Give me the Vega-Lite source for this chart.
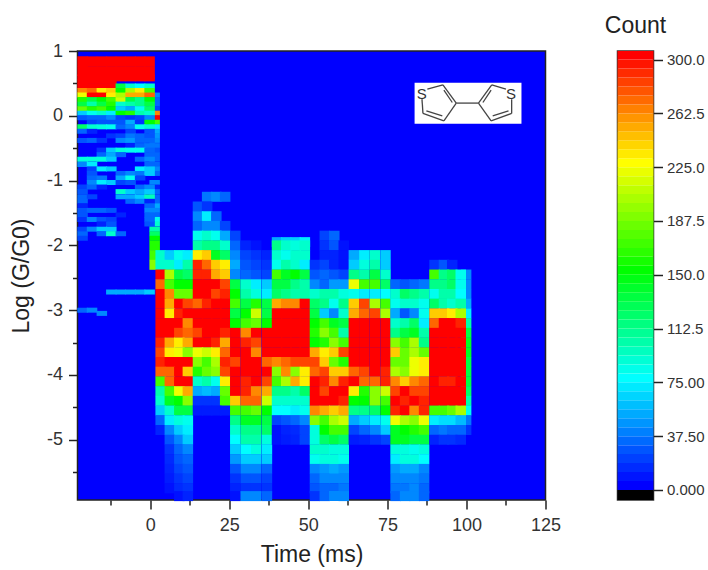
{"$schema":"https://vega.github.io/schema/vega-lite/v6.json","background":"white","padding":{"left":9.5,"top":14,"right":0,"bottom":0},"spacing":42,
"config":{"font":"Liberation Sans","axis":{"grid":false,"domain":false,"labelFont":"Liberation Sans","titleFont":"Liberation Sans","labelColor":"#333333","titleColor":"#222222","tickColor":"#222222","tickWidth":1.5,"titleFontWeight":"normal"},"title":{"font":"Liberation Sans","fontWeight":"normal","color":"#222222"}},
"datasets":{
"a":[
{"x":-21.4,"y":0.84,"c":300},{"x":-18.4,"y":0.84,"c":300},{"x":-15.3,"y":0.84,"c":300},{"x":-12.3,"y":0.84,"c":300},{"x":-9.3,"y":0.84,"c":300},{"x":-6.2,"y":0.84,"c":300},{"x":-3.2,"y":0.84,"c":300},{"x":-0.2,"y":0.84,"c":300},
{"x":-21.4,"y":0.69,"c":300},{"x":-18.4,"y":0.69,"c":300},{"x":-15.3,"y":0.69,"c":300},{"x":-12.3,"y":0.69,"c":300},{"x":-9.3,"y":0.69,"c":300},{"x":-6.2,"y":0.69,"c":300},{"x":-3.2,"y":0.69,"c":300},{"x":-0.2,"y":0.69,"c":300},
{"x":1.4,"y":-2.0,"c":160},{"x":1.4,"y":-2.15,"c":170},{"x":1.4,"y":-2.3,"c":190},
{"x":3.3,"y":-2.15,"c":90},{"x":6.2,"y":-2.15,"c":60},{"x":9.2,"y":-2.15,"c":80},{"x":11.9,"y":-2.15,"c":70},
{"x":3.3,"y":-2.3,"c":90},{"x":6.2,"y":-2.3,"c":90},{"x":9.2,"y":-2.3,"c":70},{"x":11.9,"y":-2.3,"c":100},
{"x":3.3,"y":-2.45,"c":300},{"x":6.2,"y":-2.45,"c":200},{"x":9.2,"y":-2.45,"c":130},{"x":11.9,"y":-2.45,"c":120},
{"x":3.3,"y":-2.6,"c":270},{"x":6.2,"y":-2.6,"c":170},{"x":9.2,"y":-2.6,"c":150},{"x":11.9,"y":-2.6,"c":150},
{"x":3.3,"y":-2.75,"c":300},{"x":6.2,"y":-2.75,"c":260},{"x":9.2,"y":-2.75,"c":180},{"x":11.9,"y":-2.75,"c":180},
{"x":3.3,"y":-2.9,"c":300},{"x":6.2,"y":-2.9,"c":250},{"x":9.2,"y":-2.9,"c":300},{"x":11.9,"y":-2.9,"c":280},
{"x":3.3,"y":-3.05,"c":300},{"x":6.2,"y":-3.05,"c":230},{"x":9.2,"y":-3.05,"c":290},{"x":11.9,"y":-3.05,"c":300},
{"x":3.3,"y":-3.2,"c":300},{"x":6.2,"y":-3.2,"c":300},{"x":9.2,"y":-3.2,"c":300},{"x":11.9,"y":-3.2,"c":260},
{"x":3.3,"y":-3.35,"c":300},{"x":6.2,"y":-3.35,"c":300},{"x":9.2,"y":-3.35,"c":280},{"x":11.9,"y":-3.35,"c":270},
{"x":3.3,"y":-3.5,"c":290},{"x":6.2,"y":-3.5,"c":250},{"x":9.2,"y":-3.5,"c":230},{"x":11.9,"y":-3.5,"c":250},
{"x":3.3,"y":-3.65,"c":280},{"x":6.2,"y":-3.65,"c":230},{"x":9.2,"y":-3.65,"c":220},{"x":11.9,"y":-3.65,"c":190},
{"x":3.3,"y":-3.8,"c":290},{"x":6.2,"y":-3.8,"c":300},{"x":9.2,"y":-3.8,"c":300},{"x":11.9,"y":-3.8,"c":300},
{"x":3.3,"y":-3.95,"c":270},{"x":6.2,"y":-3.95,"c":270},{"x":9.2,"y":-3.95,"c":300},{"x":11.9,"y":-3.95,"c":240},
{"x":3.3,"y":-4.1,"c":170},{"x":6.2,"y":-4.1,"c":270},{"x":9.2,"y":-4.1,"c":300},{"x":11.9,"y":-4.1,"c":300},
{"x":3.3,"y":-4.25,"c":100},{"x":6.2,"y":-4.25,"c":170},{"x":9.2,"y":-4.25,"c":220},{"x":11.9,"y":-4.25,"c":250},
{"x":3.3,"y":-4.4,"c":90},{"x":6.2,"y":-4.4,"c":140},{"x":9.2,"y":-4.4,"c":150},{"x":11.9,"y":-4.4,"c":190},
{"x":3.3,"y":-4.55,"c":60},{"x":6.2,"y":-4.55,"c":90},{"x":9.2,"y":-4.55,"c":130},{"x":11.9,"y":-4.55,"c":130},
{"x":3.3,"y":-4.7,"c":30},{"x":6.2,"y":-4.7,"c":70},{"x":9.2,"y":-4.7,"c":85},{"x":11.9,"y":-4.7,"c":80},
{"x":3.3,"y":-4.85,"c":10},{"x":6.2,"y":-4.85,"c":40},{"x":9.2,"y":-4.85,"c":60},{"x":11.9,"y":-4.85,"c":70},
{"x":6.2,"y":-5.0,"c":25},{"x":9.2,"y":-5.0,"c":40},{"x":11.9,"y":-5.0,"c":60},
{"x":6.2,"y":-5.15,"c":15},{"x":9.2,"y":-5.15,"c":30},{"x":11.9,"y":-5.15,"c":40},
{"x":6.2,"y":-5.3,"c":12},{"x":9.2,"y":-5.3,"c":25},{"x":11.9,"y":-5.3,"c":30},
{"x":6.2,"y":-5.45,"c":10},{"x":9.2,"y":-5.45,"c":20},{"x":11.9,"y":-5.45,"c":25},
{"x":6.2,"y":-5.6,"c":8},{"x":9.2,"y":-5.6,"c":15},{"x":11.9,"y":-5.6,"c":20},
{"x":6.2,"y":-5.75,"c":5},{"x":9.2,"y":-5.75,"c":12},{"x":11.9,"y":-5.75,"c":15},
{"x":9.2,"y":-5.87,"c":5},{"x":11.9,"y":-5.87,"c":10},
{"x":18,"y":-1.25,"c":35},{"x":20.9,"y":-1.25,"c":40},{"x":23.7,"y":-1.25,"c":30},
{"x":15.1,"y":-1.4,"c":25},{"x":18,"y":-1.4,"c":15},
{"x":15.1,"y":-1.55,"c":40},{"x":18,"y":-1.55,"c":70},{"x":20.9,"y":-1.55,"c":30},
{"x":15.1,"y":-1.7,"c":30},{"x":18,"y":-1.7,"c":40},{"x":20.9,"y":-1.7,"c":40},{"x":23.7,"y":-1.7,"c":20},
{"x":15.1,"y":-1.85,"c":80},{"x":18,"y":-1.85,"c":90},{"x":20.9,"y":-1.85,"c":80},{"x":23.7,"y":-1.85,"c":50},
{"x":15.1,"y":-2.0,"c":100},{"x":18,"y":-2.0,"c":110},{"x":20.9,"y":-2.0,"c":110},{"x":23.7,"y":-2.0,"c":90},
{"x":15.1,"y":-2.15,"c":230},{"x":18,"y":-2.15,"c":240},{"x":20.9,"y":-2.15,"c":140},{"x":23.7,"y":-2.15,"c":120},
{"x":15.1,"y":-2.3,"c":290},{"x":18,"y":-2.3,"c":270},{"x":20.9,"y":-2.3,"c":240},{"x":23.7,"y":-2.3,"c":230},
{"x":15.1,"y":-2.45,"c":290},{"x":18,"y":-2.45,"c":290},{"x":20.9,"y":-2.45,"c":250},{"x":23.7,"y":-2.45,"c":240},
{"x":15.1,"y":-2.6,"c":300},{"x":18,"y":-2.6,"c":300},{"x":20.9,"y":-2.6,"c":300},{"x":23.7,"y":-2.6,"c":280},
{"x":15.1,"y":-2.75,"c":300},{"x":18,"y":-2.75,"c":300},{"x":20.9,"y":-2.75,"c":280},{"x":23.7,"y":-2.75,"c":290},
{"x":15.1,"y":-2.9,"c":270},{"x":18,"y":-2.9,"c":290},{"x":20.9,"y":-2.9,"c":300},{"x":23.7,"y":-2.9,"c":300},
{"x":15.1,"y":-3.05,"c":300},{"x":18,"y":-3.05,"c":300},{"x":20.9,"y":-3.05,"c":300},{"x":23.7,"y":-3.05,"c":300},
{"x":15.1,"y":-3.2,"c":300},{"x":18,"y":-3.2,"c":300},{"x":20.9,"y":-3.2,"c":300},{"x":23.7,"y":-3.2,"c":300},
{"x":15.1,"y":-3.35,"c":280},{"x":18,"y":-3.35,"c":300},{"x":20.9,"y":-3.35,"c":300},{"x":23.7,"y":-3.35,"c":290},
{"x":15.1,"y":-3.5,"c":300},{"x":18,"y":-3.5,"c":300},{"x":20.9,"y":-3.5,"c":290},{"x":23.7,"y":-3.5,"c":250},
{"x":15.1,"y":-3.65,"c":220},{"x":18,"y":-3.65,"c":210},{"x":20.9,"y":-3.65,"c":230},{"x":23.7,"y":-3.65,"c":270},
{"x":15.1,"y":-3.8,"c":190},{"x":18,"y":-3.8,"c":170},{"x":20.9,"y":-3.8,"c":200},{"x":23.7,"y":-3.8,"c":290},
{"x":15.1,"y":-3.95,"c":160},{"x":18,"y":-3.95,"c":180},{"x":20.9,"y":-3.95,"c":190},{"x":23.7,"y":-3.95,"c":280},
{"x":15.1,"y":-4.1,"c":90},{"x":18,"y":-4.1,"c":100},{"x":20.9,"y":-4.1,"c":80},{"x":23.7,"y":-4.1,"c":230},
{"x":15.1,"y":-4.25,"c":50},{"x":18,"y":-4.25,"c":55},{"x":20.9,"y":-4.25,"c":50},{"x":23.7,"y":-4.25,"c":180},
{"x":15.1,"y":-4.4,"c":15},{"x":18,"y":-4.4,"c":15},{"x":20.9,"y":-4.4,"c":15},{"x":23.7,"y":-4.4,"c":170},
{"x":15.1,"y":-4.55,"c":8},{"x":18,"y":-4.55,"c":8},{"x":20.9,"y":-4.55,"c":8},{"x":23.7,"y":-4.55,"c":8},
{"x":26.9,"y":-1.85,"c":20},
{"x":26.9,"y":-2.0,"c":30},{"x":30.2,"y":-2.0,"c":10},{"x":33.5,"y":-2.0,"c":5},
{"x":26.9,"y":-2.15,"c":40},{"x":30.2,"y":-2.15,"c":20},{"x":33.5,"y":-2.15,"c":15},{"x":36.9,"y":-2.15,"c":10},
{"x":26.9,"y":-2.3,"c":50},{"x":30.2,"y":-2.3,"c":25},{"x":33.5,"y":-2.3,"c":20},{"x":36.9,"y":-2.3,"c":15},
{"x":26.9,"y":-2.45,"c":40},{"x":30.2,"y":-2.45,"c":30},{"x":33.5,"y":-2.45,"c":25},{"x":36.9,"y":-2.45,"c":20},
{"x":26.9,"y":-2.6,"c":130},{"x":30.2,"y":-2.6,"c":90},{"x":33.5,"y":-2.6,"c":70},{"x":36.9,"y":-2.6,"c":60},
{"x":26.9,"y":-2.75,"c":150},{"x":30.2,"y":-2.75,"c":100},{"x":33.5,"y":-2.75,"c":85},{"x":36.9,"y":-2.75,"c":70},
{"x":26.9,"y":-2.9,"c":170},{"x":30.2,"y":-2.9,"c":130},{"x":33.5,"y":-2.9,"c":160},{"x":36.9,"y":-2.9,"c":130},
{"x":26.9,"y":-3.05,"c":130},{"x":30.2,"y":-3.05,"c":150},{"x":33.5,"y":-3.05,"c":210},{"x":36.9,"y":-3.05,"c":130},
{"x":26.9,"y":-3.2,"c":150},{"x":30.2,"y":-3.2,"c":170},{"x":33.5,"y":-3.2,"c":180},{"x":36.9,"y":-3.2,"c":150},
{"x":26.9,"y":-3.35,"c":300},{"x":30.2,"y":-3.35,"c":260},{"x":33.5,"y":-3.35,"c":300},{"x":36.9,"y":-3.35,"c":300},
{"x":26.9,"y":-3.5,"c":300},{"x":30.2,"y":-3.5,"c":290},{"x":33.5,"y":-3.5,"c":280},{"x":36.9,"y":-3.5,"c":300},
{"x":26.9,"y":-3.65,"c":300},{"x":30.2,"y":-3.65,"c":300},{"x":33.5,"y":-3.65,"c":260},{"x":36.9,"y":-3.65,"c":300},
{"x":26.9,"y":-3.8,"c":280},{"x":30.2,"y":-3.8,"c":300},{"x":33.5,"y":-3.8,"c":300},{"x":36.9,"y":-3.8,"c":270},
{"x":26.9,"y":-3.95,"c":300},{"x":30.2,"y":-3.95,"c":300},{"x":33.5,"y":-3.95,"c":300},{"x":36.9,"y":-3.95,"c":300},
{"x":26.9,"y":-4.1,"c":300},{"x":30.2,"y":-4.1,"c":290},{"x":33.5,"y":-4.1,"c":300},{"x":36.9,"y":-4.1,"c":280},
{"x":26.9,"y":-4.25,"c":300},{"x":30.2,"y":-4.25,"c":290},{"x":33.5,"y":-4.25,"c":260},{"x":36.9,"y":-4.25,"c":250},
{"x":26.9,"y":-4.4,"c":240},{"x":30.2,"y":-4.4,"c":270},{"x":33.5,"y":-4.4,"c":270},{"x":36.9,"y":-4.4,"c":210},
{"x":26.9,"y":-4.55,"c":170},{"x":30.2,"y":-4.55,"c":170},{"x":33.5,"y":-4.55,"c":180},{"x":36.9,"y":-4.55,"c":150},
{"x":26.9,"y":-4.7,"c":110},{"x":30.2,"y":-4.7,"c":140},{"x":33.5,"y":-4.7,"c":140},{"x":36.9,"y":-4.7,"c":130},
{"x":26.9,"y":-4.85,"c":90},{"x":30.2,"y":-4.85,"c":110},{"x":33.5,"y":-4.85,"c":110},{"x":36.9,"y":-4.85,"c":120},
{"x":26.9,"y":-5.0,"c":75},{"x":30.2,"y":-5.0,"c":100},{"x":33.5,"y":-5.0,"c":100},{"x":36.9,"y":-5.0,"c":85},
{"x":26.9,"y":-5.15,"c":60},{"x":30.2,"y":-5.15,"c":75},{"x":33.5,"y":-5.15,"c":85},{"x":36.9,"y":-5.15,"c":70},
{"x":26.9,"y":-5.3,"c":45},{"x":30.2,"y":-5.3,"c":60},{"x":33.5,"y":-5.3,"c":60},{"x":36.9,"y":-5.3,"c":60},
{"x":26.9,"y":-5.45,"c":25},{"x":30.2,"y":-5.45,"c":40},{"x":33.5,"y":-5.45,"c":40},{"x":36.9,"y":-5.45,"c":30},
{"x":26.9,"y":-5.6,"c":15},{"x":30.2,"y":-5.6,"c":25},{"x":33.5,"y":-5.6,"c":25},{"x":36.9,"y":-5.6,"c":20},
{"x":26.9,"y":-5.75,"c":10},{"x":30.2,"y":-5.75,"c":15},{"x":33.5,"y":-5.75,"c":15},{"x":36.9,"y":-5.75,"c":15},
{"x":26.9,"y":-5.87,"c":5},{"x":30.2,"y":-5.87,"c":40},{"x":33.5,"y":-5.87,"c":40},{"x":36.9,"y":-5.87,"c":30},
{"x":40.1,"y":-1.95,"c":50},{"x":43,"y":-1.95,"c":60},{"x":46,"y":-1.95,"c":60},{"x":48.9,"y":-1.95,"c":70},
{"x":40.1,"y":-2.0,"c":110},{"x":43,"y":-2.0,"c":90},{"x":46,"y":-2.0,"c":85},{"x":48.9,"y":-2.0,"c":90},
{"x":40.1,"y":-2.15,"c":90},{"x":43,"y":-2.15,"c":80},{"x":46,"y":-2.15,"c":90},{"x":48.9,"y":-2.15,"c":90},
{"x":40.1,"y":-2.3,"c":80},{"x":43,"y":-2.3,"c":100},{"x":46,"y":-2.3,"c":90},{"x":48.9,"y":-2.3,"c":70},
{"x":40.1,"y":-2.45,"c":170},{"x":43,"y":-2.45,"c":140},{"x":46,"y":-2.45,"c":150},{"x":48.9,"y":-2.45,"c":130},
{"x":40.1,"y":-2.6,"c":130},{"x":43,"y":-2.6,"c":130},{"x":46,"y":-2.6,"c":110},{"x":48.9,"y":-2.6,"c":100},
{"x":40.1,"y":-2.75,"c":120},{"x":43,"y":-2.75,"c":110},{"x":46,"y":-2.75,"c":100},{"x":48.9,"y":-2.75,"c":100},
{"x":40.1,"y":-2.9,"c":250},{"x":43,"y":-2.9,"c":260},{"x":46,"y":-2.9,"c":260},{"x":48.9,"y":-2.9,"c":300},
{"x":40.1,"y":-3.05,"c":300},{"x":43,"y":-3.05,"c":300},{"x":46,"y":-3.05,"c":300},{"x":48.9,"y":-3.05,"c":300},
{"x":40.1,"y":-3.2,"c":300},{"x":43,"y":-3.2,"c":300},{"x":46,"y":-3.2,"c":300},{"x":48.9,"y":-3.2,"c":300},
{"x":40.1,"y":-3.35,"c":300},{"x":43,"y":-3.35,"c":300},{"x":46,"y":-3.35,"c":300},{"x":48.9,"y":-3.35,"c":300},
{"x":40.1,"y":-3.5,"c":300},{"x":43,"y":-3.5,"c":300},{"x":46,"y":-3.5,"c":300},{"x":48.9,"y":-3.5,"c":300},
{"x":40.1,"y":-3.65,"c":300},{"x":43,"y":-3.65,"c":300},{"x":46,"y":-3.65,"c":300},{"x":48.9,"y":-3.65,"c":300},
{"x":40.1,"y":-3.8,"c":260},{"x":43,"y":-3.8,"c":270},{"x":46,"y":-3.8,"c":280},{"x":48.9,"y":-3.8,"c":280},
{"x":40.1,"y":-3.95,"c":190},{"x":43,"y":-3.95,"c":260},{"x":46,"y":-3.95,"c":190},{"x":48.9,"y":-3.95,"c":230},
{"x":40.1,"y":-4.1,"c":170},{"x":43,"y":-4.1,"c":200},{"x":46,"y":-4.1,"c":250},{"x":48.9,"y":-4.1,"c":230},
{"x":40.1,"y":-4.25,"c":110},{"x":43,"y":-4.25,"c":110},{"x":46,"y":-4.25,"c":100},{"x":48.9,"y":-4.25,"c":120},
{"x":40.1,"y":-4.4,"c":90},{"x":43,"y":-4.4,"c":90},{"x":46,"y":-4.4,"c":90},{"x":48.9,"y":-4.4,"c":90},
{"x":40.1,"y":-4.55,"c":75},{"x":43,"y":-4.55,"c":75},{"x":46,"y":-4.55,"c":70},{"x":48.9,"y":-4.55,"c":80},
{"x":40.1,"y":-4.7,"c":20},{"x":43,"y":-4.7,"c":25},{"x":46,"y":-4.7,"c":30},{"x":48.9,"y":-4.7,"c":40},
{"x":40.1,"y":-4.85,"c":5},{"x":43,"y":-4.85,"c":10},{"x":46,"y":-4.85,"c":12},{"x":48.9,"y":-4.85,"c":20},
{"x":40.1,"y":-5.0,"c":5},{"x":43,"y":-5.0,"c":8},{"x":46,"y":-5.0,"c":10},{"x":48.9,"y":-5.0,"c":20},
{"x":55.2,"y":-1.85,"c":20},{"x":58.2,"y":-1.85,"c":30},
{"x":55.2,"y":-2.0,"c":15},{"x":58.2,"y":-2.0,"c":25},{"x":61.2,"y":-2.0,"c":5},
{"x":55.2,"y":-2.15,"c":10},{"x":58.2,"y":-2.15,"c":10},{"x":61.2,"y":-2.15,"c":5},
{"x":52.1,"y":-2.3,"c":15},{"x":55.2,"y":-2.3,"c":20},{"x":58.2,"y":-2.3,"c":10},{"x":61.2,"y":-2.3,"c":5},
{"x":52.1,"y":-2.45,"c":25},{"x":55.2,"y":-2.45,"c":30},{"x":58.2,"y":-2.45,"c":25},{"x":61.2,"y":-2.45,"c":20},
{"x":52.1,"y":-2.6,"c":40},{"x":55.2,"y":-2.6,"c":30},{"x":58.2,"y":-2.6,"c":45},{"x":61.2,"y":-2.6,"c":45},
{"x":52.1,"y":-2.75,"c":90},{"x":55.2,"y":-2.75,"c":100},{"x":58.2,"y":-2.75,"c":100},{"x":61.2,"y":-2.75,"c":85},
{"x":52.1,"y":-2.9,"c":120},{"x":55.2,"y":-2.9,"c":110},{"x":58.2,"y":-2.9,"c":80},{"x":61.2,"y":-2.9,"c":110},
{"x":52.1,"y":-3.05,"c":130},{"x":55.2,"y":-3.05,"c":60},{"x":58.2,"y":-3.05,"c":40},{"x":61.2,"y":-3.05,"c":90},
{"x":52.1,"y":-3.2,"c":150},{"x":55.2,"y":-3.2,"c":170},{"x":58.2,"y":-3.2,"c":140},{"x":61.2,"y":-3.2,"c":130},
{"x":52.1,"y":-3.35,"c":160},{"x":55.2,"y":-3.35,"c":190},{"x":58.2,"y":-3.35,"c":170},{"x":61.2,"y":-3.35,"c":100},
{"x":52.1,"y":-3.5,"c":150},{"x":55.2,"y":-3.5,"c":160},{"x":58.2,"y":-3.5,"c":190},{"x":61.2,"y":-3.5,"c":170},
{"x":52.1,"y":-3.65,"c":250},{"x":55.2,"y":-3.65,"c":230},{"x":58.2,"y":-3.65,"c":240},{"x":61.2,"y":-3.65,"c":280},
{"x":52.1,"y":-3.8,"c":280},{"x":55.2,"y":-3.8,"c":240},{"x":58.2,"y":-3.8,"c":180},{"x":61.2,"y":-3.8,"c":160},
{"x":52.1,"y":-3.95,"c":270},{"x":55.2,"y":-3.95,"c":280},{"x":58.2,"y":-3.95,"c":240},{"x":61.2,"y":-3.95,"c":240},
{"x":52.1,"y":-4.1,"c":300},{"x":55.2,"y":-4.1,"c":290},{"x":58.2,"y":-4.1,"c":260},{"x":61.2,"y":-4.1,"c":290},
{"x":52.1,"y":-4.25,"c":300},{"x":55.2,"y":-4.25,"c":280},{"x":58.2,"y":-4.25,"c":300},{"x":61.2,"y":-4.25,"c":300},
{"x":52.1,"y":-4.4,"c":300},{"x":55.2,"y":-4.4,"c":300},{"x":58.2,"y":-4.4,"c":300},{"x":61.2,"y":-4.4,"c":290},
{"x":52.1,"y":-4.55,"c":260},{"x":55.2,"y":-4.55,"c":250},{"x":58.2,"y":-4.55,"c":240},{"x":61.2,"y":-4.55,"c":250},
{"x":52.1,"y":-4.7,"c":190},{"x":55.2,"y":-4.7,"c":170},{"x":58.2,"y":-4.7,"c":200},{"x":61.2,"y":-4.7,"c":210},
{"x":52.1,"y":-4.85,"c":85},{"x":55.2,"y":-4.85,"c":150},{"x":58.2,"y":-4.85,"c":170},{"x":61.2,"y":-4.85,"c":170},
{"x":52.1,"y":-5.0,"c":85},{"x":55.2,"y":-5.0,"c":120},{"x":58.2,"y":-5.0,"c":130},{"x":61.2,"y":-5.0,"c":120},
{"x":52.1,"y":-5.15,"c":90},{"x":55.2,"y":-5.15,"c":90},{"x":58.2,"y":-5.15,"c":85},{"x":61.2,"y":-5.15,"c":85},
{"x":52.1,"y":-5.3,"c":80},{"x":55.2,"y":-5.3,"c":85},{"x":58.2,"y":-5.3,"c":85},{"x":61.2,"y":-5.3,"c":80},
{"x":52.1,"y":-5.45,"c":40},{"x":55.2,"y":-5.45,"c":45},{"x":58.2,"y":-5.45,"c":50},{"x":61.2,"y":-5.45,"c":45},
{"x":52.1,"y":-5.6,"c":30},{"x":55.2,"y":-5.6,"c":40},{"x":58.2,"y":-5.6,"c":40},{"x":61.2,"y":-5.6,"c":40},
{"x":52.1,"y":-5.75,"c":25},{"x":55.2,"y":-5.75,"c":30},{"x":58.2,"y":-5.75,"c":30},{"x":61.2,"y":-5.75,"c":35},
{"x":52.1,"y":-5.87,"c":15},{"x":55.2,"y":-5.87,"c":30},{"x":58.2,"y":-5.87,"c":40},{"x":61.2,"y":-5.87,"c":40},
{"x":64.4,"y":-2.15,"c":50},{"x":67.7,"y":-2.15,"c":70},{"x":71,"y":-2.15,"c":90},{"x":74.4,"y":-2.15,"c":60},
{"x":64.4,"y":-2.3,"c":60},{"x":67.7,"y":-2.3,"c":85},{"x":71,"y":-2.3,"c":100},{"x":74.4,"y":-2.3,"c":60},
{"x":64.4,"y":-2.45,"c":110},{"x":67.7,"y":-2.45,"c":100},{"x":71,"y":-2.45,"c":130},{"x":74.4,"y":-2.45,"c":90},
{"x":64.4,"y":-2.6,"c":220},{"x":67.7,"y":-2.6,"c":170},{"x":71,"y":-2.6,"c":170},{"x":74.4,"y":-2.6,"c":120},
{"x":64.4,"y":-2.75,"c":80},{"x":67.7,"y":-2.75,"c":70},{"x":71,"y":-2.75,"c":70},{"x":74.4,"y":-2.75,"c":75},
{"x":64.4,"y":-2.9,"c":240},{"x":67.7,"y":-2.9,"c":280},{"x":71,"y":-2.9,"c":200},{"x":74.4,"y":-2.9,"c":170},
{"x":64.4,"y":-3.05,"c":250},{"x":67.7,"y":-3.05,"c":270},{"x":71,"y":-3.05,"c":280},{"x":74.4,"y":-3.05,"c":200},
{"x":64.4,"y":-3.2,"c":300},{"x":67.7,"y":-3.2,"c":300},{"x":71,"y":-3.2,"c":300},{"x":74.4,"y":-3.2,"c":300},
{"x":64.4,"y":-3.35,"c":300},{"x":67.7,"y":-3.35,"c":300},{"x":71,"y":-3.35,"c":300},{"x":74.4,"y":-3.35,"c":300},
{"x":64.4,"y":-3.5,"c":300},{"x":67.7,"y":-3.5,"c":300},{"x":71,"y":-3.5,"c":300},{"x":74.4,"y":-3.5,"c":300},
{"x":64.4,"y":-3.65,"c":300},{"x":67.7,"y":-3.65,"c":300},{"x":71,"y":-3.65,"c":300},{"x":74.4,"y":-3.65,"c":300},
{"x":64.4,"y":-3.8,"c":300},{"x":67.7,"y":-3.8,"c":300},{"x":71,"y":-3.8,"c":300},{"x":74.4,"y":-3.8,"c":300},
{"x":64.4,"y":-3.95,"c":270},{"x":67.7,"y":-3.95,"c":280},{"x":71,"y":-3.95,"c":300},{"x":74.4,"y":-3.95,"c":290},
{"x":64.4,"y":-4.1,"c":300},{"x":67.7,"y":-4.1,"c":270},{"x":71,"y":-4.1,"c":270},{"x":74.4,"y":-4.1,"c":290},
{"x":64.4,"y":-4.25,"c":230},{"x":67.7,"y":-4.25,"c":160},{"x":71,"y":-4.25,"c":190},{"x":74.4,"y":-4.25,"c":210},
{"x":64.4,"y":-4.4,"c":150},{"x":67.7,"y":-4.4,"c":150},{"x":71,"y":-4.4,"c":190},{"x":74.4,"y":-4.4,"c":170},
{"x":64.4,"y":-4.55,"c":110},{"x":67.7,"y":-4.55,"c":110},{"x":71,"y":-4.55,"c":120},{"x":74.4,"y":-4.55,"c":150},
{"x":64.4,"y":-4.7,"c":50},{"x":67.7,"y":-4.7,"c":60},{"x":71,"y":-4.7,"c":70},{"x":74.4,"y":-4.7,"c":80},
{"x":64.4,"y":-4.85,"c":20},{"x":67.7,"y":-4.85,"c":30},{"x":71,"y":-4.85,"c":40},{"x":74.4,"y":-4.85,"c":60},
{"x":64.4,"y":-5.0,"c":8},{"x":67.7,"y":-5.0,"c":10},{"x":71,"y":-5.0,"c":15},{"x":74.4,"y":-5.0,"c":20},
{"x":77.6,"y":-2.6,"c":30},{"x":80.6,"y":-2.6,"c":25},{"x":83.6,"y":-2.6,"c":30},{"x":86.6,"y":-2.6,"c":35},
{"x":77.6,"y":-2.75,"c":90},{"x":80.6,"y":-2.75,"c":120},{"x":83.6,"y":-2.75,"c":110},{"x":86.6,"y":-2.75,"c":100},
{"x":77.6,"y":-2.9,"c":80},{"x":80.6,"y":-2.9,"c":90},{"x":83.6,"y":-2.9,"c":90},{"x":86.6,"y":-2.9,"c":80},
{"x":77.6,"y":-3.05,"c":50},{"x":80.6,"y":-3.05,"c":25},{"x":83.6,"y":-3.05,"c":40},{"x":86.6,"y":-3.05,"c":80},
{"x":77.6,"y":-3.2,"c":90},{"x":80.6,"y":-3.2,"c":100},{"x":83.6,"y":-3.2,"c":120},{"x":86.6,"y":-3.2,"c":70},
{"x":77.6,"y":-3.35,"c":110},{"x":80.6,"y":-3.35,"c":130},{"x":83.6,"y":-3.35,"c":140},{"x":86.6,"y":-3.35,"c":100},
{"x":77.6,"y":-3.5,"c":190},{"x":80.6,"y":-3.5,"c":170},{"x":83.6,"y":-3.5,"c":200},{"x":86.6,"y":-3.5,"c":110},
{"x":77.6,"y":-3.65,"c":240},{"x":80.6,"y":-3.65,"c":180},{"x":83.6,"y":-3.65,"c":200},{"x":86.6,"y":-3.65,"c":180},
{"x":77.6,"y":-3.8,"c":180},{"x":80.6,"y":-3.8,"c":180},{"x":83.6,"y":-3.8,"c":220},{"x":86.6,"y":-3.8,"c":230},
{"x":77.6,"y":-3.95,"c":200},{"x":80.6,"y":-3.95,"c":190},{"x":83.6,"y":-3.95,"c":220},{"x":86.6,"y":-3.95,"c":230},
{"x":77.6,"y":-4.1,"c":260},{"x":80.6,"y":-4.1,"c":240},{"x":83.6,"y":-4.1,"c":260},{"x":86.6,"y":-4.1,"c":270},
{"x":77.6,"y":-4.25,"c":280},{"x":80.6,"y":-4.25,"c":300},{"x":83.6,"y":-4.25,"c":280},{"x":86.6,"y":-4.25,"c":280},
{"x":77.6,"y":-4.4,"c":300},{"x":80.6,"y":-4.4,"c":290},{"x":83.6,"y":-4.4,"c":300},{"x":86.6,"y":-4.4,"c":290},
{"x":77.6,"y":-4.55,"c":290},{"x":80.6,"y":-4.55,"c":300},{"x":83.6,"y":-4.55,"c":260},{"x":86.6,"y":-4.55,"c":290},
{"x":77.6,"y":-4.7,"c":220},{"x":80.6,"y":-4.7,"c":200},{"x":83.6,"y":-4.7,"c":190},{"x":86.6,"y":-4.7,"c":220},
{"x":77.6,"y":-4.85,"c":140},{"x":80.6,"y":-4.85,"c":150},{"x":83.6,"y":-4.85,"c":160},{"x":86.6,"y":-4.85,"c":170},
{"x":77.6,"y":-5.0,"c":140},{"x":80.6,"y":-5.0,"c":140},{"x":83.6,"y":-5.0,"c":130},{"x":86.6,"y":-5.0,"c":130},
{"x":77.6,"y":-5.15,"c":85},{"x":80.6,"y":-5.15,"c":85},{"x":83.6,"y":-5.15,"c":80},{"x":86.6,"y":-5.15,"c":85},
{"x":77.6,"y":-5.3,"c":70},{"x":80.6,"y":-5.3,"c":85},{"x":83.6,"y":-5.3,"c":85},{"x":86.6,"y":-5.3,"c":75},
{"x":77.6,"y":-5.45,"c":45},{"x":80.6,"y":-5.45,"c":50},{"x":83.6,"y":-5.45,"c":50},{"x":86.6,"y":-5.45,"c":40},
{"x":77.6,"y":-5.6,"c":40},{"x":80.6,"y":-5.6,"c":40},{"x":83.6,"y":-5.6,"c":40},{"x":86.6,"y":-5.6,"c":35},
{"x":77.6,"y":-5.75,"c":35},{"x":80.6,"y":-5.75,"c":35},{"x":83.6,"y":-5.75,"c":40},{"x":86.6,"y":-5.75,"c":30},
{"x":77.6,"y":-5.87,"c":30},{"x":80.6,"y":-5.87,"c":40},{"x":83.6,"y":-5.87,"c":40},{"x":86.6,"y":-5.87,"c":30},
{"x":99.9,"y":-2.45,"c":40},{"x":99.9,"y":-2.6,"c":40},{"x":99.9,"y":-2.75,"c":40},{"x":99.9,"y":-2.9,"c":50},{"x":99.9,"y":-3.05,"c":70},{"x":99.9,"y":-3.2,"c":100},{"x":99.9,"y":-3.35,"c":130},{"x":99.9,"y":-3.5,"c":140},{"x":99.9,"y":-3.65,"c":140},{"x":99.9,"y":-3.8,"c":130},{"x":99.9,"y":-3.95,"c":130},{"x":99.9,"y":-4.1,"c":130},{"x":99.9,"y":-4.25,"c":120},{"x":99.9,"y":-4.4,"c":100},{"x":99.9,"y":-4.55,"c":80},{"x":99.9,"y":-4.7,"c":35},{"x":99.9,"y":-4.85,"c":15},
{"x":89.9,"y":-2.3,"c":15},{"x":92.9,"y":-2.3,"c":25},{"x":95.5,"y":-2.3,"c":10},
{"x":89.9,"y":-2.45,"c":170},{"x":92.9,"y":-2.45,"c":110},{"x":95.5,"y":-2.45,"c":120},{"x":98.2,"y":-2.45,"c":80},
{"x":89.9,"y":-2.6,"c":110},{"x":92.9,"y":-2.6,"c":110},{"x":95.5,"y":-2.6,"c":120},{"x":98.2,"y":-2.6,"c":80},
{"x":89.9,"y":-2.75,"c":80},{"x":92.9,"y":-2.75,"c":100},{"x":95.5,"y":-2.75,"c":100},{"x":98.2,"y":-2.75,"c":75},
{"x":89.9,"y":-2.9,"c":120},{"x":92.9,"y":-2.9,"c":100},{"x":95.5,"y":-2.9,"c":90},{"x":98.2,"y":-2.9,"c":100},
{"x":89.9,"y":-3.05,"c":240},{"x":92.9,"y":-3.05,"c":240},{"x":95.5,"y":-3.05,"c":230},{"x":98.2,"y":-3.05,"c":200},
{"x":89.9,"y":-3.2,"c":270},{"x":92.9,"y":-3.2,"c":300},{"x":95.5,"y":-3.2,"c":300},{"x":98.2,"y":-3.2,"c":290},
{"x":89.9,"y":-3.35,"c":300},{"x":92.9,"y":-3.35,"c":300},{"x":95.5,"y":-3.35,"c":300},{"x":98.2,"y":-3.35,"c":300},
{"x":89.9,"y":-3.5,"c":300},{"x":92.9,"y":-3.5,"c":300},{"x":95.5,"y":-3.5,"c":300},{"x":98.2,"y":-3.5,"c":300},
{"x":89.9,"y":-3.65,"c":300},{"x":92.9,"y":-3.65,"c":300},{"x":95.5,"y":-3.65,"c":300},{"x":98.2,"y":-3.65,"c":300},
{"x":89.9,"y":-3.8,"c":300},{"x":92.9,"y":-3.8,"c":300},{"x":95.5,"y":-3.8,"c":300},{"x":98.2,"y":-3.8,"c":300},
{"x":89.9,"y":-3.95,"c":300},{"x":92.9,"y":-3.95,"c":300},{"x":95.5,"y":-3.95,"c":300},{"x":98.2,"y":-3.95,"c":300},
{"x":89.9,"y":-4.1,"c":300},{"x":92.9,"y":-4.1,"c":290},{"x":95.5,"y":-4.1,"c":290},{"x":98.2,"y":-4.1,"c":300},
{"x":89.9,"y":-4.25,"c":300},{"x":92.9,"y":-4.25,"c":300},{"x":95.5,"y":-4.25,"c":300},{"x":98.2,"y":-4.25,"c":300},
{"x":89.9,"y":-4.4,"c":300},{"x":92.9,"y":-4.4,"c":300},{"x":95.5,"y":-4.4,"c":300},{"x":98.2,"y":-4.4,"c":300},
{"x":89.9,"y":-4.55,"c":170},{"x":92.9,"y":-4.55,"c":170},{"x":95.5,"y":-4.55,"c":180},{"x":98.2,"y":-4.55,"c":200},
{"x":89.9,"y":-4.7,"c":70},{"x":92.9,"y":-4.7,"c":65},{"x":95.5,"y":-4.7,"c":65},{"x":98.2,"y":-4.7,"c":55},
{"x":89.9,"y":-4.85,"c":30},{"x":92.9,"y":-4.85,"c":35},{"x":95.5,"y":-4.85,"c":30},{"x":98.2,"y":-4.85,"c":30},
{"x":89.9,"y":-5.0,"c":10},{"x":92.9,"y":-5.0,"c":15},{"x":95.5,"y":-5.0,"c":15},{"x":98.2,"y":-5.0,"c":12}
],
"b":[
{"x":1.4,"y":0.32,"c":40},{"x":1.4,"y":0.25,"c":30},{"x":1.4,"y":0.18,"c":30},{"x":1.4,"y":0.11,"c":20},{"x":1.4,"y":0.04,"c":260},{"x":1.4,"y":-0.03,"c":300},{"x":1.4,"y":-0.1,"c":170},{"x":1.4,"y":-0.17,"c":70},{"x":1.4,"y":-0.24,"c":50},{"x":1.4,"y":-0.31,"c":45},{"x":1.4,"y":-0.38,"c":40},{"x":1.4,"y":-0.46,"c":35},{"x":1.4,"y":-0.53,"c":25},{"x":1.4,"y":-0.6,"c":30},{"x":1.4,"y":-0.67,"c":30},{"x":1.4,"y":-0.75,"c":30},{"x":1.4,"y":-0.82,"c":40},{"x":1.4,"y":-0.89,"c":30},{"x":1.4,"y":-1.03,"c":40},{"x":1.4,"y":-1.1,"c":10},{"x":1.4,"y":-1.17,"c":30},{"x":1.4,"y":-1.25,"c":30},{"x":1.4,"y":-1.32,"c":30},{"x":1.4,"y":-1.39,"c":50},{"x":1.4,"y":-1.46,"c":40},{"x":1.4,"y":-1.53,"c":30},{"x":1.4,"y":-1.6,"c":80},{"x":1.4,"y":-1.67,"c":90},{"x":1.4,"y":-1.75,"c":100},{"x":1.4,"y":-1.82,"c":120},{"x":1.4,"y":-1.89,"c":150},
{"x":-21.4,"y":0.6,"c":300},{"x":-18.4,"y":0.6,"c":300},{"x":-15.3,"y":0.6,"c":300},{"x":-12.3,"y":0.6,"c":300},{"x":-9.3,"y":0.6,"c":300},{"x":-6.2,"y":0.6,"c":300},{"x":-3.2,"y":0.6,"c":300},{"x":-0.2,"y":0.6,"c":300},
{"x":-9.3,"y":0.57,"c":300},{"x":-6.2,"y":0.57,"c":300},{"x":-3.2,"y":0.57,"c":300},{"x":-0.2,"y":0.57,"c":300},
{"x":-21.4,"y":0.53,"c":300},{"x":-18.4,"y":0.53,"c":300},{"x":-15.3,"y":0.53,"c":300},{"x":-12.3,"y":0.53,"c":300},
{"x":-21.4,"y":0.46,"c":300},{"x":-18.4,"y":0.46,"c":300},{"x":-15.3,"y":0.46,"c":300},{"x":-12.3,"y":0.46,"c":300},{"x":-9.3,"y":0.46,"c":130},{"x":-6.2,"y":0.46,"c":90},{"x":-3.2,"y":0.46,"c":75},{"x":-0.2,"y":0.46,"c":90},
{"x":-21.4,"y":0.39,"c":260},{"x":-18.4,"y":0.39,"c":270},{"x":-15.3,"y":0.39,"c":230},{"x":-12.3,"y":0.39,"c":240},{"x":-9.3,"y":0.39,"c":150},{"x":-6.2,"y":0.39,"c":200},{"x":-3.2,"y":0.39,"c":230},{"x":-0.2,"y":0.39,"c":170},
{"x":-21.4,"y":0.32,"c":220},{"x":-18.4,"y":0.32,"c":300},{"x":-15.3,"y":0.32,"c":300},{"x":-12.3,"y":0.32,"c":230},{"x":-9.3,"y":0.32,"c":200},{"x":-6.2,"y":0.32,"c":250},{"x":-3.2,"y":0.32,"c":250},{"x":-0.2,"y":0.32,"c":270},
{"x":-21.4,"y":0.25,"c":160},{"x":-18.4,"y":0.25,"c":130},{"x":-15.3,"y":0.25,"c":150},{"x":-12.3,"y":0.25,"c":170},{"x":-9.3,"y":0.25,"c":210},{"x":-6.2,"y":0.25,"c":130},{"x":-3.2,"y":0.25,"c":110},{"x":-0.2,"y":0.25,"c":150},
{"x":-21.4,"y":0.18,"c":130},{"x":-18.4,"y":0.18,"c":100},{"x":-15.3,"y":0.18,"c":130},{"x":-12.3,"y":0.18,"c":160},{"x":-9.3,"y":0.18,"c":90},{"x":-6.2,"y":0.18,"c":100},{"x":-3.2,"y":0.18,"c":110},{"x":-0.2,"y":0.18,"c":130},
{"x":-21.4,"y":0.11,"c":180},{"x":-18.4,"y":0.11,"c":160},{"x":-15.3,"y":0.11,"c":170},{"x":-12.3,"y":0.11,"c":150},{"x":-9.3,"y":0.11,"c":60},{"x":-6.2,"y":0.11,"c":50},{"x":-3.2,"y":0.11,"c":80},{"x":-0.2,"y":0.11,"c":120},
{"x":-21.4,"y":0.04,"c":60},{"x":-18.4,"y":0.04,"c":80},{"x":-15.3,"y":0.04,"c":90},{"x":-12.3,"y":0.04,"c":70},{"x":-9.3,"y":0.04,"c":150},{"x":-6.2,"y":0.04,"c":160},{"x":-3.2,"y":0.04,"c":100},{"x":-0.2,"y":0.04,"c":90},
{"x":-21.4,"y":-0.03,"c":25},{"x":-18.4,"y":-0.03,"c":30},{"x":-15.3,"y":-0.03,"c":30},{"x":-12.3,"y":-0.03,"c":40},{"x":-9.3,"y":-0.03,"c":20},{"x":-6.2,"y":-0.03,"c":15},{"x":-3.2,"y":-0.03,"c":20},{"x":-0.2,"y":-0.03,"c":40},
{"x":-18.4,"y":-0.1,"c":20},{"x":-15.3,"y":-0.1,"c":25},{"x":-12.3,"y":-0.1,"c":25},{"x":-9.3,"y":-0.1,"c":25},{"x":-6.2,"y":-0.1,"c":50},{"x":-3.2,"y":-0.1,"c":15},{"x":-0.2,"y":-0.1,"c":150},
{"x":-21.4,"y":-0.17,"c":120},{"x":-18.4,"y":-0.17,"c":90},{"x":-15.3,"y":-0.17,"c":85},{"x":-12.3,"y":-0.17,"c":80},{"x":-9.3,"y":-0.17,"c":30},{"x":-6.2,"y":-0.17,"c":40},{"x":-3.2,"y":-0.17,"c":80},{"x":-0.2,"y":-0.17,"c":90},
{"x":-21.4,"y":-0.24,"c":30},{"x":-18.4,"y":-0.24,"c":10},{"x":-6.2,"y":-0.24,"c":20},{"x":-0.2,"y":-0.24,"c":25},
{"x":-12.3,"y":-0.31,"c":15},{"x":-9.3,"y":-0.31,"c":20},{"x":-6.2,"y":-0.31,"c":35},{"x":-3.2,"y":-0.31,"c":30},{"x":-0.2,"y":-0.31,"c":25},
{"x":-21.4,"y":-0.38,"c":25},{"x":-18.4,"y":-0.38,"c":30},{"x":-15.3,"y":-0.38,"c":15},{"x":-9.3,"y":-0.38,"c":40},{"x":-6.2,"y":-0.38,"c":45},{"x":-3.2,"y":-0.38,"c":30},{"x":-0.2,"y":-0.38,"c":30},
{"x":-6.2,"y":-0.46,"c":10},{"x":-3.2,"y":-0.46,"c":30},{"x":-0.2,"y":-0.46,"c":35},
{"x":-15.3,"y":-0.53,"c":15},{"x":-12.3,"y":-0.53,"c":60},{"x":-9.3,"y":-0.53,"c":85},{"x":-6.2,"y":-0.53,"c":80},{"x":-3.2,"y":-0.53,"c":80},{"x":-0.2,"y":-0.53,"c":30},
{"x":-15.3,"y":-0.6,"c":30},{"x":-12.3,"y":-0.6,"c":50},{"x":-9.3,"y":-0.6,"c":30},{"x":-0.2,"y":-0.6,"c":30},
{"x":-21.4,"y":-0.67,"c":85},{"x":-18.4,"y":-0.67,"c":85},{"x":-15.3,"y":-0.67,"c":85},{"x":-12.3,"y":-0.67,"c":60},{"x":-3.2,"y":-0.67,"c":30},{"x":-0.2,"y":-0.67,"c":40},
{"x":-21.4,"y":-0.75,"c":40},{"x":-18.4,"y":-0.75,"c":70},{"x":-0.2,"y":-0.75,"c":30},
{"x":-18.4,"y":-0.82,"c":20},{"x":-15.3,"y":-0.82,"c":70},{"x":-12.3,"y":-0.82,"c":60},{"x":-3.2,"y":-0.82,"c":70},{"x":-0.2,"y":-0.82,"c":60},
{"x":-18.4,"y":-0.89,"c":25},{"x":-9.3,"y":-0.89,"c":30},{"x":-6.2,"y":-0.89,"c":40},{"x":-3.2,"y":-0.89,"c":35},{"x":-0.2,"y":-0.89,"c":60},
{"x":-18.4,"y":-0.96,"c":30},{"x":-15.3,"y":-0.96,"c":35},{"x":-9.3,"y":-0.96,"c":50},{"x":-6.2,"y":-0.96,"c":80},{"x":-3.2,"y":-0.96,"c":20},
{"x":-18.4,"y":-1.03,"c":40},{"x":-15.3,"y":-1.03,"c":70},{"x":-12.3,"y":-1.03,"c":60},{"x":-9.3,"y":-1.03,"c":20},{"x":-6.2,"y":-1.03,"c":25},
{"x":-21.4,"y":-1.1,"c":20},{"x":-18.4,"y":-1.1,"c":30},{"x":-15.3,"y":-1.1,"c":10},{"x":-3.2,"y":-1.1,"c":30},{"x":-0.2,"y":-1.1,"c":40},
{"x":-21.4,"y":-1.17,"c":25},{"x":-9.3,"y":-1.17,"c":90},{"x":-6.2,"y":-1.17,"c":60},{"x":-3.2,"y":-1.17,"c":50},{"x":-0.2,"y":-1.17,"c":60},
{"x":-21.4,"y":-1.25,"c":30},{"x":-18.4,"y":-1.25,"c":20},{"x":-9.3,"y":-1.25,"c":50},{"x":-6.2,"y":-1.25,"c":50},{"x":-3.2,"y":-1.25,"c":60},{"x":-0.2,"y":-1.25,"c":95},
{"x":-21.4,"y":-1.32,"c":30},{"x":-6.2,"y":-1.32,"c":30},{"x":-3.2,"y":-1.32,"c":40},{"x":-0.2,"y":-1.32,"c":10},
{"x":-21.4,"y":-1.39,"c":10},{"x":-0.2,"y":-1.39,"c":30},
{"x":-21.4,"y":-1.46,"c":25},{"x":-18.4,"y":-1.46,"c":30},{"x":-15.3,"y":-1.46,"c":30},{"x":-12.3,"y":-1.46,"c":25},{"x":-0.2,"y":-1.46,"c":40},
{"x":-21.4,"y":-1.53,"c":25},{"x":-9.3,"y":-1.53,"c":10},{"x":-0.2,"y":-1.53,"c":30},
{"x":-21.4,"y":-1.6,"c":15},{"x":-18.4,"y":-1.6,"c":40},{"x":-15.3,"y":-1.6,"c":25},{"x":-12.3,"y":-1.6,"c":20},{"x":-0.2,"y":-1.6,"c":30},
{"x":-15.3,"y":-1.67,"c":10},{"x":-12.3,"y":-1.67,"c":25},{"x":-0.2,"y":-1.67,"c":25},
{"x":-21.4,"y":-1.75,"c":20},{"x":-18.4,"y":-1.75,"c":40},{"x":-15.3,"y":-1.75,"c":60},{"x":-12.3,"y":-1.75,"c":60},
{"x":-21.4,"y":-1.82,"c":30},{"x":-15.3,"y":-1.82,"c":30},{"x":-12.3,"y":-1.82,"c":90},{"x":-9.3,"y":-1.82,"c":30},
{"x":-21.4,"y":-1.89,"c":20},
{"x":-12.3,"y":-2.72,"c":50},{"x":-9.3,"y":-2.72,"c":50},{"x":-6.2,"y":-2.72,"c":50},{"x":-3.2,"y":-2.72,"c":50},{"x":-0.2,"y":-2.72,"c":60},
{"x":-21.4,"y":-3.0,"c":30},{"x":-18.4,"y":-3.0,"c":40},{"x":-15.3,"y":-3.05,"c":40}
],
"bar":[
{"v":-7,"e":0,"c":-1},{"v":0,"e":6.25,"c":0},{"v":6.25,"e":12.5,"c":6.25},{"v":12.5,"e":18.75,"c":12.5},{"v":18.75,"e":25,"c":18.75},{"v":25,"e":31.25,"c":25},{"v":31.25,"e":37.5,"c":31.25},{"v":37.5,"e":43.75,"c":37.5},{"v":43.75,"e":50,"c":43.75},{"v":50,"e":56.25,"c":50},{"v":56.25,"e":62.5,"c":56.25},{"v":62.5,"e":68.75,"c":62.5},{"v":68.75,"e":75,"c":68.75},{"v":75,"e":81.25,"c":75},{"v":81.25,"e":87.5,"c":81.25},{"v":87.5,"e":93.75,"c":87.5},{"v":93.75,"e":100,"c":93.75},{"v":100,"e":106.25,"c":100},{"v":106.25,"e":112.5,"c":106.25},{"v":112.5,"e":118.75,"c":112.5},{"v":118.75,"e":125,"c":118.75},{"v":125,"e":131.25,"c":125},{"v":131.25,"e":137.5,"c":131.25},{"v":137.5,"e":143.75,"c":137.5},{"v":143.75,"e":150,"c":143.75},{"v":150,"e":156.25,"c":150},{"v":156.25,"e":162.5,"c":156.25},{"v":162.5,"e":168.75,"c":162.5},{"v":168.75,"e":175,"c":168.75},{"v":175,"e":181.25,"c":175},{"v":181.25,"e":187.5,"c":181.25},{"v":187.5,"e":193.75,"c":187.5},{"v":193.75,"e":200,"c":193.75},{"v":200,"e":206.25,"c":200},{"v":206.25,"e":212.5,"c":206.25},{"v":212.5,"e":218.75,"c":212.5},{"v":218.75,"e":225,"c":218.75},{"v":225,"e":231.25,"c":225},{"v":231.25,"e":237.5,"c":231.25},{"v":237.5,"e":243.75,"c":237.5},{"v":243.75,"e":250,"c":243.75},{"v":250,"e":256.25,"c":250},{"v":256.25,"e":262.5,"c":256.25},{"v":262.5,"e":268.75,"c":262.5},{"v":268.75,"e":275,"c":268.75},{"v":275,"e":281.25,"c":275},{"v":281.25,"e":287.5,"c":281.25},{"v":287.5,"e":293.75,"c":287.5},{"v":293.75,"e":300,"c":293.75},{"v":300,"e":306,"c":300}
],
"bonds":[
{"x":87.64,"x2":92.56,"y":0.412,"y2":0.478},{"x":92.56,"x2":96.78,"y":0.478,"y2":0.196},{"x":96.78,"x2":92.87,"y":0.196,"y2":-0.077},{"x":92.87,"x2":86.25,"y":-0.077,"y2":0.036},{"x":86.25,"x2":85.94,"y":0.036,"y2":0.257},{"x":92.87,"x2":95.52,"y":0.396,"y2":0.205},{"x":92.37,"x2":87.33,"y":0,"y2":0.077},{"x":96.78,"x2":103.8,"y":0.196,"y2":0.196},{"x":103.8,"x2":108,"y":0.196,"y2":0.478},{"x":108,"x2":112.5,"y":0.478,"y2":0.412},{"x":114.3,"x2":114.3,"y":0.257,"y2":0.036},{"x":114.3,"x2":107.8,"y":0.036,"y2":-0.077},{"x":107.8,"x2":103.8,"y":-0.077,"y2":0.196},{"x":107.8,"x2":105.2,"y":0.396,"y2":0.205},{"x":108.3,"x2":113.3,"y":0,"y2":0.077}
]
},
"hconcat":[
{"width":468,"height":449,"view":{"fill":"#0000ff","stroke":"#222222","strokeWidth":1.5},"resolve":{"axis":{"x":"independent","y":"independent"}},"layer":[
{"data":{"name":"a"},"mark":{"type":"rect","width":10.5,"height":10},"encoding":{"x":{"field":"x","type":"quantitative","title":"Time (ms)","scale":{"domain":[-23,125],"nice":false,"zero":false},"axis":{"orient":"bottom","values":[0,25,50,75,100,125],"tickSize":9,"labelFontSize":18,"titleFontSize":23,"labelPadding":7,"titlePadding":9,"labelFlush":false}},"y":{"field":"y","type":"quantitative","title":"Log (G/G0)","scale":{"domain":[-5.93,1],"nice":false,"zero":false},"axis":{"orient":"left","values":[1,0,-1,-2,-3,-4,-5],"labelExpr":"''+datum.value","tickSize":9,"labelFontSize":18,"titleFontSize":23,"labelPadding":6,"titlePadding":12.5}},"color":{"field":"c","type":"quantitative","legend":null,"scale":{"domain":[-1,0,75,150,225,300],"range":["#000000","#0000ff","#00ffff","#00ff00","#ffff00","#ff0000"],"clamp":true,"interpolate":"rgb"}}}},
{"data":{"name":"b"},"mark":{"type":"rect","width":10.5,"height":5},"encoding":{"x":{"field":"x","type":"quantitative","title":null,"axis":{"orient":"bottom","values":[-12.5,12.5,37.5,62.5,87.5,112.5],"labels":false,"tickSize":5,"title":null}},"y":{"field":"y","type":"quantitative","title":null,"axis":{"orient":"left","values":[0.5,-0.5,-1.5,-2.5,-3.5,-4.5,-5.5],"labels":false,"tickSize":5,"title":null}},"color":{"field":"c","type":"quantitative","legend":null,"scale":{"domain":[-1,0,75,150,225,300],"range":["#000000","#0000ff","#00ffff","#00ff00","#ffff00","#ff0000"],"clamp":true,"interpolate":"rgb"}}}},
{"data":{"values":[{"x":83.6,"x2":117.4,"y":0.509,"y2":-0.123}]},"mark":{"type":"rect","color":"white"},"encoding":{"x":{"field":"x","type":"quantitative","axis":null},"x2":{"field":"x2"},"y":{"field":"y","type":"quantitative","axis":null},"y2":{"field":"y2"}}},
{"data":{"name":"bonds"},"mark":{"type":"rule","color":"#444444","strokeWidth":1.3},"encoding":{"x":{"field":"x","type":"quantitative","axis":null},"x2":{"field":"x2"},"y":{"field":"y","type":"quantitative","axis":null},"y2":{"field":"y2"}}},
{"data":{"values":[{"x":85.9,"y":0.343,"t":"S"},{"x":114.1,"y":0.343,"t":"S"}]},"mark":{"type":"text","fontSize":15,"color":"#333333","font":"Liberation Sans"},"encoding":{"x":{"field":"x","type":"quantitative","axis":null},"y":{"field":"y","type":"quantitative","axis":null},"text":{"field":"t"}}}
]},
{"width":36,"height":449,"view":{"stroke":"#333333","strokeWidth":1.5},"title":{"text":"Count","fontSize":23,"anchor":"middle","offset":13},"data":{"name":"bar"},"mark":{"type":"rect"},"encoding":{"y":{"field":"v","type":"quantitative","title":null,"scale":{"domain":[-7,306],"nice":false,"zero":false},"axis":{"orient":"right","values":[0,37.5,75,112.5,150,187.5,225,262.5,300],"labelExpr":"datum.value===0?'0.000':format(datum.value,'.4r')","tickSize":9,"labelFontSize":15,"labelPadding":4}},"y2":{"field":"e"},"color":{"field":"c","type":"quantitative","legend":null,"scale":{"domain":[-1,0,75,150,225,300],"range":["#000000","#0000ff","#00ffff","#00ff00","#ffff00","#ff0000"],"clamp":true,"interpolate":"rgb"}}}}
]}
